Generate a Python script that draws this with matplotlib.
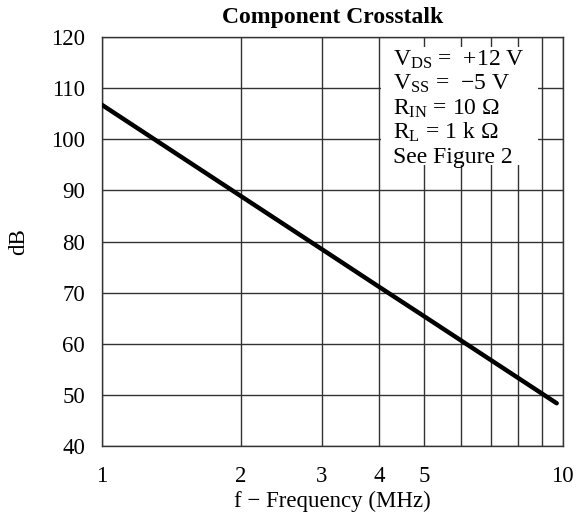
import numpy as np
import matplotlib
matplotlib.use('Agg')
import matplotlib.pyplot as plt

plt.rcParams['font.family'] = ['Liberation Serif', 'DejaVu Serif']
plt.rcParams['mathtext.fontset'] = 'custom'
plt.rcParams['mathtext.rm'] = 'Liberation Serif'
plt.rcParams['mathtext.it'] = 'Liberation Serif:italic'

# data
freq = [1.0, 2.0, 3.0, 4.0, 5.0, 9.7]
crosstalk = [106.7, 88.9, 78.5, 71.1, 65.4, 48.4]

grid_x = [1, 2, 3, 4, 5, 6, 7, 8, 9, 10]
xtick_vals = [1, 2, 3, 4, 5, 10]
xtick_labels = ['1', '2', '3', '4', '5', '10']
ytick_vals = [40, 50, 60, 70, 80, 90, 100, 110, 120]

notes = [r'V$_{\mathrm{DS}}$ =  +12 V',
         r'V$_{\mathrm{SS}}$ =  $-$5 V',
         r'R$_{\mathrm{IN}}$ = 10 Ω',
         r'R$_{\mathrm{L}}$ = 1 k Ω',
         'See Figure 2']

fig = plt.figure(figsize=(5.79, 5.25), dpi=100)
ax = fig.add_axes([0.176, 0.150, 0.796, 0.780])

ax.set_xscale('log')
ax.set_xlim(1, 10)
ax.set_ylim(40, 120)

gc = '#333333'
for x in grid_x:
    ax.axvline(x, color=gc, lw=1.0, zorder=1)
for y in ytick_vals:
    ax.axhline(y, color=gc, lw=1.0, zorder=1)

ax.plot(freq, crosstalk, color='black', lw=3.2, solid_capstyle='round', zorder=3)

ax.set_xticks(xtick_vals)
ax.set_xticklabels(xtick_labels)
ax.xaxis.set_minor_locator(matplotlib.ticker.NullLocator())
ax.set_yticks(ytick_vals)
ax.tick_params(axis='both', length=0, labelsize=16.5)
ax.tick_params(axis='x', pad=14)
ax.tick_params(axis='y', pad=12)

for s in ax.spines.values():
    s.set_color(gc)
    s.set_linewidth(1.0)

ax.set_title('Component Crosstalk', fontsize=17, fontweight='bold', pad=10)
ax.set_xlabel('f − Frequency (MHz)', fontsize=16.5, labelpad=3)
ax.set_ylabel('dB', fontsize=16.5, labelpad=16)

# white box behind the test conditions
box = matplotlib.patches.Rectangle((0.605, 0.687), 0.341, 0.289, transform=ax.transAxes,
                                   facecolor='white', edgecolor='none', zorder=2)
ax.add_patch(box)
for i, line in enumerate(notes):
    ax.text(0.631, 0.929 - i * 0.0593, line, transform=ax.transAxes, fontsize=17,
            va='baseline', ha='left', zorder=4)

fig.savefig('out.png', dpi=100)
